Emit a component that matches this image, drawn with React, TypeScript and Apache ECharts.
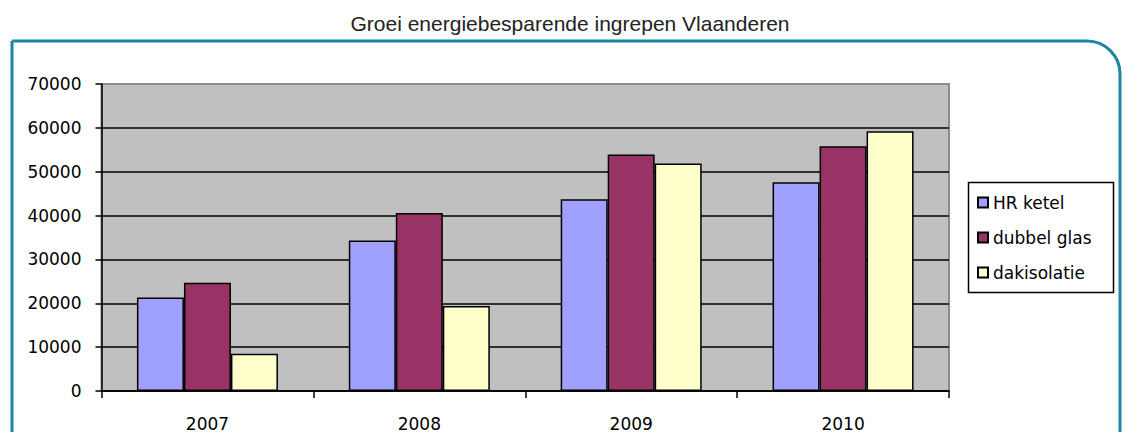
import React, { useEffect, useRef } from "react";
import * as echarts from "echarts";

const title = "Groei energiebesparende ingrepen Vlaanderen";
const categories = ["2007", "2008", "2009", "2010"];
const seriesNames = ["HR ketel", "dubbel glas", "dakisolatie"];
const hrKetel = [21300, 34300, 43700, 47600];
const dubbelGlas = [24700, 40600, 53900, 55800];
const dakisolatie = [8500, 19400, 51900, 59200];
const seriesColors = ["#a0a0ff", "#993366", "#ffffcc"];

export default function App() {
  const ref = useRef<HTMLDivElement>(null);
  useEffect(() => {
    if (!ref.current) return;
    const chart = echarts.init(ref.current, undefined, { renderer: "svg" });
    const values = [hrKetel, dubbelGlas, dakisolatie];
    const font = "'DejaVu Sans', sans-serif";
    chart.setOption({
      animation: false,
      backgroundColor: "#ffffff",
      title: {
        text: title,
        left: 565,
        top: 8,
        textAlign: "center",
        textStyle: {
          fontFamily: "'Liberation Sans', Arial, sans-serif",
          fontSize: 21,
          fontWeight: "normal",
          color: "#222222",
        },
      },
      graphic: [
        {
          type: "rect",
          shape: { x: 12, y: 41, width: 1108, height: 430, r: [0, 33, 0, 0] },
          style: { fill: "none", stroke: "#1b87a5", lineWidth: 3 },
          z: 0,
        },
        {
          type: "rect",
          shape: { x: 968.5, y: 182.5, width: 145, height: 110 },
          style: { fill: "#ffffff", stroke: "#000000", lineWidth: 1.5 },
          z: 1,
        },
      ],
      legend: {
        orient: "vertical",
        left: 977,
        top: 194,
        padding: 0,
        itemWidth: 10,
        itemHeight: 10,
        itemGap: 18,
        icon: "rect",
        z: 5,
        textStyle: {
          fontFamily: font,
          fontSize: 17,
          lineHeight: 17,
          color: "#000000",
        },
        data: seriesNames,
      },
      grid: {
        left: 101.5,
        right: 176,
        top: 84,
        bottom: 40.7,
        show: true,
        backgroundColor: "#c0c0c0",
        borderColor: "#8c8c8c",
        borderWidth: 2,
      },
      xAxis: {
        type: "category",
        data: categories,
        axisLine: { show: true, lineStyle: { color: "#000000", width: 1.5 } },
        axisTick: { show: true, length: 7, lineStyle: { color: "#000000", width: 1.5 } },
        axisLabel: {
          fontFamily: font,
          fontSize: 17,
          color: "#000000",
          margin: 24,
        },
      },
      yAxis: {
        type: "value",
        min: 0,
        max: 70000,
        interval: 10000,
        axisLine: { show: true, lineStyle: { color: "#000000", width: 1.5 } },
        axisTick: { show: true, length: 6, lineStyle: { color: "#000000", width: 1.5 } },
        axisLabel: {
          fontFamily: font,
          fontSize: 17,
          color: "#000000",
          margin: 20,
          formatter: (v: number) => String(v),
        },
        splitLine: {
          show: true,
          showMaxLine: false,
          lineStyle: { color: "#000000", width: 1.5 },
        },
      },
      series: seriesNames.map((name, i) => ({
        name,
        type: "bar",
        data: values[i],
        barWidth: 47,
        barGap: "0%",
        itemStyle: {
          color: seriesColors[i],
          borderColor: "#000000",
          borderWidth: 1.5,
        },
      })),
    });
    return () => chart.dispose();
  }, []);
  return (
    <div
      ref={ref}
      style={{ position: "absolute", left: 0, top: 0, width: 1125, height: 432 }}
    />
  );
}
